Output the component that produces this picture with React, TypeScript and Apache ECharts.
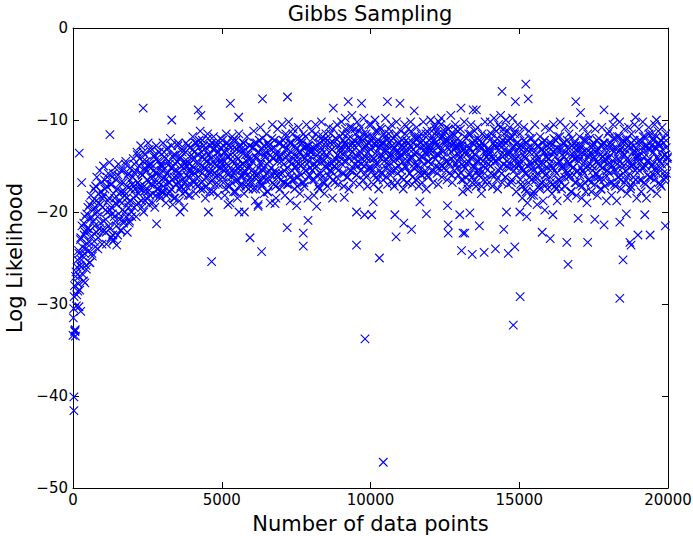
import React, { useEffect, useRef } from "react";
import * as echarts from "echarts";

const TITLE = "Gibbs Sampling";
const X_NAME = "Number of data points";
const Y_NAME = "Log Likelihood";
const X_TICKS = [0, 5000, 10000, 15000, 20000];
const Y_TICKS = [-50, -40, -30, -20, -10, 0];

// regularly spaced samples (one every SAMPLE_STEP data points)
const SAMPLE_STEP = 25;
const logLikSamplesA: number[] = [
  -33.4, -30.5, -28.0, -32.8, -26.5, -29.0, -25.2, -27.8, -24.5, -28.5, -23.0, -26.0, -21.5, -24.8, -27.5, -22.5, -20.5, -24.0, -26.2, -21.8, -19.5, -23.2, -25.5, -20.8, -18.2, -22.6, -24.8, -19.8, -17.5, -21.5, -23.8, -18.8, -16.2, -20.5, -22.8, -19.0, -15.5, -21.2, -17.8, -23.5,
  -19.5, -15.0, -22.0, -17.5, -20.8, -23.5, -16.2, -18.8, -21.5, -14.6, -19.8, -22.8, -17.0, -20.2, -15.8, -23.0, -18.5, -21.0, -16.5, -19.2, -22.5, -14.8, -18.0, -20.8, -16.8, -22.0, -19.0, -15.5, -21.2, -17.8, -20.0, -14.5, -18.5, -22.2, -16.0, -19.5, -21.0, -15.2, -17.5, -20.5,
  -17.0, -14.2, -19.5, -15.8, -18.2, -20.5, -13.5, -16.8, -19.0, -15.0, -17.5, -12.8, -18.8, -16.0, -14.5, -20.0, -17.2, -13.8, -15.5, -18.5, -16.5, -12.5, -19.2, -14.8, -17.0, -15.2, -13.2, -18.0, -16.2, -14.0, -19.5, -15.8, -12.8, -17.5, -14.5, -16.8, -13.5, -18.2, -15.0, -17.8,
  -15.5, -12.5, -17.8, -14.0, -16.5, -19.0, -13.2, -15.8, -18.0, -14.5, -16.8, -12.0, -17.5, -15.2, -19.2, -13.8, -16.2, -18.5, -14.8, -17.0, -15.5, -12.8, -16.8, -18.8, -14.2, -17.2, -15.0, -13.5, -16.5, -19.5, -14.8, -17.8, -12.5, -16.0, -14.5, -18.2, -15.5, -13.0, -17.0, -15.8,
  -14.2, -11.8, -16.5, -13.5, -15.8, -18.0, -12.5, -14.8, -17.2, -13.0, -15.5, -11.2, -16.8, -14.0, -12.2, -17.5, -15.2, -13.2, -18.5, -14.5, -16.2, -11.5, -13.8, -15.5, -17.8, -12.8, -14.8, -16.5, -13.2, -11.8, -15.8, -17.0, -14.2, -12.5, -16.0, -18.2, -13.5, -15.2, -12.0, -14.5,
  -14.8, -12.2, -16.8, -13.5, -18.2, -15.2, -11.5, -14.0, -17.0, -12.8, -15.8, -19.0, -13.8, -16.2, -11.8, -14.5, -17.8, -13.0, -15.5, -12.2, -16.5, -18.5, -14.2, -11.5, -15.0, -17.2, -13.2, -16.0, -14.8, -12.5, -18.0, -15.5, -13.8, -16.8, -11.8, -14.2, -17.5, -15.0, -12.8, -16.2,
  -15.5, -13.0, -17.5, -11.2, -16.2, -18.8, -14.0, -12.5, -15.8, -19.2, -13.5, -16.8, -10.8, -14.5, -17.2, -12.0, -15.2, -18.0, -13.8, -16.5, -11.5, -14.8, -17.8, -12.8, -15.5, -19.0, -13.2, -16.0, -10.5, -14.2, -17.0, -12.2, -15.8, -18.5, -13.5, -11.0, -16.2, -14.0, -17.5, -12.5,
  -14.5, -10.5, -16.8, -12.8, -15.5, -18.2, -11.5, -14.0, -17.0, -13.2, -10.2, -15.8, -18.8, -12.5, -14.8, -16.5, -11.0, -13.8, -17.5, -15.2, -12.0, -14.5, -16.2, -10.8, -13.5, -18.0, -15.0, -12.2, -16.8, -14.0, -11.5, -17.2, -13.0, -15.5, -10.5, -14.8, -18.5, -12.8, -16.0, -13.5,
  -14.0, -11.2, -16.5, -13.0, -18.2, -15.2, -10.5, -12.8, -16.0, -14.5, -11.8, -17.5, -13.5, -15.8, -10.2, -14.2, -16.8, -12.2, -18.0, -15.0, -11.5, -13.8, -17.2, -14.8, -10.8, -16.2, -12.5, -15.5, -13.2, -18.5, -11.0, -14.5, -16.8, -12.0, -15.2, -10.5, -13.8, -17.0, -14.0, -11.8,
  -13.5, -10.2, -15.8, -12.2, -17.2, -14.5, -9.8, -12.8, -16.2, -11.5, -14.0, -17.5, -10.8, -13.2, -15.5, -9.5, -12.5, -16.8, -14.2, -11.0, -13.8, -16.0, -10.2, -15.0, -12.0, -17.0, -13.5, -10.8, -14.8, -12.2, -16.5, -9.8, -13.0, -15.8, -11.5, -14.2, -17.2, -12.5, -10.5, -15.2,
  -13.2, -10.5, -15.5, -12.0, -17.0, -14.2, -10.0, -12.8, -16.2, -11.2, -14.8, -17.5, -13.0, -10.8, -15.8, -12.5, -14.0, -16.5, -11.5, -13.5, -9.8, -15.2, -12.2, -17.0, -14.5, -11.0, -13.8, -16.0, -10.5, -12.8, -15.5, -13.2, -17.2, -11.8, -14.2, -10.2, -16.8, -12.5, -15.0, -13.5,
  -14.0, -11.2, -16.2, -12.8, -17.5, -13.5, -10.5, -15.0, -12.2, -16.8, -14.5, -11.0, -13.2, -15.8, -10.2, -14.2, -17.0, -12.5, -15.2, -11.8, -13.8, -16.5, -10.8, -14.8, -12.0, -17.2, -15.5, -13.0, -11.5, -16.0, -14.0, -10.2, -12.8, -15.8, -13.5, -17.5, -11.2, -14.5, -16.2, -12.2,
  -13.2, -10.0, -15.5, -11.8, -16.8, -14.0, -10.5, -12.5, -15.0, -11.2, -13.8, -17.0, -10.2, -12.8, -14.8, -9.8, -16.2, -13.5, -11.5, -15.2, -12.2, -14.5, -10.8, -16.5, -13.0, -11.0, -15.8, -12.5, -9.5, -14.2, -16.8, -11.8, -13.2, -15.5, -10.5, -12.8, -14.8, -11.2, -16.0, -13.5,
  -14.2, -11.0, -16.5, -12.8, -17.8, -15.0, -10.2, -13.5, -16.2, -12.0, -14.8, -17.5, -11.5, -13.2, -15.8, -10.5, -14.0, -16.8, -12.5, -15.2, -11.2, -13.8, -17.2, -14.5, -10.8, -16.0, -12.2, -15.5, -13.0, -18.0, -11.5, -14.5, -16.5, -12.8, -10.2, -15.2, -13.5, -17.0, -11.8, -14.2,
  -13.5, -10.2, -15.8, -12.0, -17.2, -14.2, -9.8, -12.8, -16.0, -11.2, -14.5, -17.5, -10.5, -13.2, -15.2, -9.5, -12.5, -16.8, -14.0, -11.0, -13.8, -16.2, -10.0, -15.0, -12.2, -17.0, -13.5, -10.8, -14.8, -12.0, -16.5, -9.8, -13.0, -15.5, -11.5, -14.2, -17.8, -12.5, -10.5, -15.0,
  -14.8, -11.5, -17.0, -13.2, -18.5, -15.5, -10.8, -14.0, -17.5, -12.5, -15.8, -19.0, -13.0, -11.2, -16.2, -14.5, -18.2, -12.0, -15.2, -17.8, -13.5, -10.5, -16.5, -14.2, -19.2, -12.8, -15.0, -17.2, -11.8, -14.8, -16.8, -13.2, -18.8, -15.5, -12.2, -10.8, -16.0, -14.0, -17.5, -13.5,
  -14.2, -11.0, -16.8, -12.8, -18.0, -15.2, -10.5, -13.5, -17.2, -12.2, -15.8, -18.8, -11.8, -14.5, -16.5, -10.2, -13.2, -17.5, -15.0, -12.5, -14.0, -16.2, -10.8, -15.5, -13.0, -18.5, -14.8, -11.5, -16.0, -13.8, -17.8, -12.0, -15.2, -10.5, -14.2, -16.8, -12.8, -18.2, -15.5, -13.5,
  -14.5, -11.8, -17.0, -13.0, -18.5, -15.5, -10.8, -13.8, -16.8, -12.2, -15.2, -19.0, -11.5, -14.0, -16.5, -10.5, -13.5, -17.8, -15.0, -12.8, -14.2, -16.2, -11.0, -15.8, -13.2, -18.2, -14.8, -12.0, -16.5, -13.8, -17.5, -10.8, -15.2, -12.5, -14.5, -17.2, -13.0, -18.8, -15.5, -11.5,
  -14.2, -11.2, -16.8, -12.8, -18.2, -15.0, -10.5, -13.5, -17.0, -12.0, -15.5, -18.8, -11.8, -14.2, -16.2, -10.2, -13.2, -17.5, -14.8, -12.5, -15.8, -11.0, -13.8, -16.5, -12.2, -18.0, -14.5, -10.8, -15.2, -13.0, -17.2, -11.5, -14.8, -16.8, -12.8, -10.5, -15.5, -13.5, -18.5, -14.0,
  -14.0, -11.0, -16.5, -12.5, -17.8, -15.2, -10.2, -13.5, -16.8, -11.8, -15.0, -18.5, -12.8, -14.5, -10.8, -16.2, -13.2, -17.5, -11.5, -14.8, -12.2, -16.0, -10.5, -15.5, -13.0, -18.0, -14.2, -11.2, -16.8, -12.8, -15.2, -17.2, -10.8, -14.0, -12.5, -16.5, -13.8, -11.5, -15.8, -14.2,
];

// the interleaved samples, offset by SAMPLE_OFFSET_B data points
const SAMPLE_OFFSET_B = 12;
const logLikSamplesB: number[] = [
  -31.5, -29.2, -33.0, -27.0, -30.2, -26.0, -28.6, -24.2, -27.0, -25.8, -22.8, -25.2, -23.8, -26.8, -21.2, -24.5, -22.2, -25.8, -20.2, -23.5, -21.8, -24.2, -19.2, -22.0, -20.5, -24.5, -18.8, -21.0, -23.2, -19.5, -17.2, -22.2, -20.0, -24.0, -18.0, -21.8, -19.2, -16.8, -22.0, -18.5,
  -18.2, -21.0, -16.5, -19.8, -22.2, -17.2, -20.0, -15.8, -18.5, -21.8, -17.0, -19.5, -16.2, -22.5, -18.0, -20.5, -15.2, -19.0, -21.5, -17.5, -16.0, -20.2, -18.8, -22.0, -15.5, -17.8, -19.8, -16.8, -21.0, -18.2, -14.8, -20.5, -17.2, -19.0, -15.8, -21.2, -16.5, -18.8, -20.0, -17.0,
  -16.2, -18.5, -14.8, -17.5, -15.5, -19.2, -13.8, -16.8, -18.0, -14.2, -17.2, -15.8, -19.5, -16.0, -13.5, -17.8, -15.2, -18.8, -14.5, -16.5, -17.8, -15.0, -13.2, -18.2, -16.2, -14.8, -17.0, -19.0, -15.5, -13.8, -16.8, -18.2, -14.2, -15.8, -17.5, -13.5, -16.0, -18.5, -14.8, -16.5,
  -15.0, -17.2, -13.5, -16.2, -14.2, -18.2, -15.8, -13.0, -16.8, -14.8, -17.8, -15.2, -12.8, -16.5, -14.0, -18.5, -15.5, -13.8, -17.0, -14.5, -16.2, -12.5, -15.8, -17.5, -14.0, -16.0, -13.2, -18.0, -15.2, -14.5, -16.8, -13.5, -17.2, -15.0, -12.8, -16.2, -14.8, -18.2, -15.5, -13.8,
  -15.0, -13.2, -16.8, -14.2, -12.5, -17.0, -15.5, -13.8, -16.2, -12.2, -14.8, -17.5, -13.5, -15.8, -14.0, -12.8, -16.5, -15.2, -13.0, -17.2, -14.5, -12.0, -15.8, -13.8, -16.8, -14.2, -12.5, -15.5, -17.8, -13.2, -14.8, -16.2, -12.8, -15.0, -13.5, -17.0, -14.2, -16.0, -13.0, -15.2,
  -14.2, -16.2, -12.8, -15.5, -13.5, -17.5, -14.8, -12.5, -16.0, -14.0, -17.2, -15.2, -13.0, -16.8, -14.5, -12.2, -15.8, -13.8, -17.8, -15.0, -13.2, -16.5, -14.2, -12.8, -15.5, -17.0, -13.5, -16.2, -14.8, -12.5, -15.8, -13.2, -17.2, -14.5, -16.0, -13.8, -15.2, -12.8, -16.8, -14.2,
  -14.5, -16.8, -13.0, -15.8, -12.5, -17.5, -14.2, -16.0, -13.5, -15.2, -12.2, -16.5, -14.8, -13.2, -17.0, -15.5, -12.8, -16.2, -14.0, -13.5, -15.8, -17.8, -12.5, -14.5, -16.5, -13.8, -15.2, -12.0, -16.8, -14.2, -13.0, -15.5, -17.2, -13.8, -16.0, -14.5, -12.5, -15.8, -14.0, -16.5,
  -13.8, -15.8, -12.2, -14.8, -16.8, -13.2, -11.8, -15.2, -13.8, -17.0, -14.5, -12.5, -16.2, -13.5, -15.5, -11.5, -14.2, -16.5, -12.8, -15.0, -13.2, -17.2, -14.0, -12.0, -15.8, -13.5, -16.0, -12.5, -14.8, -13.0, -16.8, -14.2, -11.8, -15.5, -13.8, -12.8, -16.2, -14.5, -13.2, -15.2,
  -13.5, -15.5, -12.0, -14.8, -16.5, -13.2, -11.5, -15.0, -13.8, -17.2, -14.2, -12.5, -15.8, -13.0, -16.2, -11.8, -14.5, -13.5, -16.8, -12.8, -15.2, -14.0, -12.2, -16.0, -13.5, -15.5, -11.5, -14.8, -13.2, -16.5, -12.5, -15.0, -14.2, -12.0, -16.2, -13.8, -15.5, -12.8, -14.5, -13.2,
  -13.0, -14.8, -11.5, -13.8, -15.8, -12.5, -11.0, -14.5, -13.2, -16.2, -12.0, -14.2, -15.5, -12.8, -10.8, -13.5, -15.2, -12.2, -14.8, -11.5, -13.0, -16.0, -12.5, -14.5, -11.2, -13.8, -15.5, -12.0, -14.2, -13.2, -11.5, -15.0, -12.8, -14.0, -16.2, -11.8, -13.5, -15.2, -12.5, -14.2,
  -13.2, -15.2, -11.8, -14.2, -16.0, -12.5, -11.2, -14.8, -13.5, -16.5, -12.2, -14.0, -15.5, -12.8, -11.0, -13.8, -15.8, -12.5, -14.5, -11.8, -13.2, -16.2, -12.8, -14.8, -11.5, -14.0, -15.5, -12.2, -13.8, -16.8, -12.0, -14.5, -13.0, -15.2, -11.5, -13.5, -15.8, -12.5, -14.2, -13.0,
  -13.8, -15.5, -12.2, -14.5, -16.5, -13.0, -11.5, -15.2, -13.5, -16.8, -12.5, -14.2, -15.8, -12.8, -11.2, -14.0, -16.2, -13.2, -14.8, -12.0, -13.5, -16.5, -12.8, -15.0, -11.8, -14.2, -15.8, -12.5, -14.0, -16.8, -12.2, -14.8, -13.2, -15.5, -11.5, -13.8, -16.0, -12.8, -14.5, -13.5,
  -12.8, -14.8, -11.2, -13.5, -15.5, -12.2, -10.8, -14.2, -12.8, -15.8, -11.5, -13.8, -15.2, -12.0, -10.5, -13.2, -15.0, -11.8, -14.0, -11.2, -12.5, -15.5, -12.2, -14.5, -11.0, -13.2, -14.8, -11.8, -13.5, -16.0, -11.5, -14.0, -12.5, -14.8, -11.0, -13.0, -15.2, -12.0, -13.8, -12.8,
  -14.0, -15.8, -12.5, -14.8, -16.5, -13.2, -11.8, -15.2, -13.8, -17.0, -12.8, -14.5, -16.0, -13.0, -11.5, -14.2, -16.2, -13.5, -15.0, -12.2, -13.8, -16.8, -13.0, -15.5, -12.0, -14.5, -16.0, -12.8, -14.2, -17.2, -12.5, -15.0, -13.5, -15.8, -11.8, -14.0, -16.5, -13.2, -14.8, -13.8,
  -13.2, -15.0, -11.5, -14.0, -16.0, -12.5, -11.0, -14.5, -13.0, -16.5, -12.0, -14.2, -15.5, -12.8, -10.8, -13.8, -15.8, -12.2, -14.8, -11.5, -13.2, -16.2, -12.5, -14.5, -11.2, -13.8, -15.2, -12.0, -13.5, -16.8, -11.8, -14.2, -12.8, -15.0, -11.2, -13.5, -16.0, -12.5, -14.0, -13.0,
  -14.5, -16.5, -12.8, -15.2, -17.2, -13.8, -12.2, -15.8, -14.2, -17.8, -13.2, -15.0, -16.8, -13.5, -12.0, -14.8, -16.5, -13.0, -15.5, -18.2, -12.5, -14.5, -16.2, -13.8, -15.8, -12.8, -14.2, -17.5, -13.2, -15.5, -16.8, -12.5, -14.8, -13.5, -16.0, -14.0, -17.0, -12.8, -15.2, -14.2,
  -14.8, -16.2, -12.5, -15.0, -17.0, -13.5, -12.0, -15.5, -14.0, -17.5, -13.0, -14.8, -16.5, -13.2, -11.8, -14.5, -16.8, -13.8, -15.2, -12.5, -14.0, -17.2, -13.5, -15.8, -12.2, -14.5, -16.2, -13.0, -14.8, -17.8, -12.8, -15.2, -13.8, -16.0, -12.5, -14.2, -16.8, -13.2, -15.5, -14.0,
  -14.2, -16.0, -12.8, -15.2, -17.2, -13.5, -12.2, -15.8, -14.5, -17.8, -13.2, -15.0, -16.5, -13.8, -12.0, -14.8, -16.8, -13.0, -15.5, -12.5, -14.0, -17.0, -13.5, -15.8, -12.2, -14.5, -16.2, -13.2, -15.0, -17.5, -12.8, -15.2, -14.0, -16.5, -12.5, -14.2, -16.0, -13.5, -15.5, -14.8,
  -14.0, -15.8, -12.5, -14.8, -16.8, -13.2, -12.0, -15.5, -14.2, -17.2, -13.0, -14.8, -16.2, -13.5, -11.8, -14.5, -16.5, -13.0, -15.2, -12.2, -13.8, -16.8, -13.2, -15.5, -12.0, -14.2, -16.0, -12.8, -14.8, -17.5, -12.5, -15.0, -13.5, -16.2, -12.2, -14.0, -16.5, -13.2, -15.2, -14.5,
  -13.8, -15.5, -12.2, -14.5, -16.5, -13.0, -11.8, -15.2, -14.0, -17.0, -12.8, -14.5, -16.0, -13.2, -11.5, -14.2, -16.2, -12.8, -15.0, -12.0, -13.5, -16.5, -13.0, -15.2, -11.8, -14.0, -15.8, -12.5, -14.5, -17.0, -12.2, -14.8, -13.2, -15.8, -12.0, -13.8, -16.2, -13.0, -14.8, -14.0,
];

// scattered samples away from the main band: [data points, log likelihood]
const burnInPoints: [number, number][] = [
  [30, -40.1], [30, -41.6], [60, -32.9], [80, -33.5], [200, -30.3], [260, -30.8],
  [210, -13.6], [290, -16.8], [400, -27.7], [570, -25.5], [1240, -11.6], [1470, -23.6], [1340, -23.2],
];
const highPoints: [number, number][] = [
  [2360, -8.7], [3320, -10.0], [4210, -8.9], [4300, -9.5], [5290, -8.2], [5570, -9.7],
  [6370, -7.7], [7210, -7.5], [8750, -8.7], [9250, -8.0], [9700, -8.2], [10570, -8.0],
  [10990, -8.2], [11470, -9.0], [13040, -8.7], [13450, -8.9], [13560, -8.9], [14420, -6.9],
  [14870, -8.0], [15220, -6.1], [15300, -7.7], [16900, -8.0], [17060, -9.2], [17850, -8.9],
  [18210, -9.7], [18910, -9.7], [19610, -10.0],
];
const lowPoints: [number, number][] = [
  [2810, -21.3], [3600, -20.0], [4550, -20.0], [4660, -25.4], [5210, -19.2], [5580, -20.0],
  [5760, -20.0], [5950, -22.8], [6220, -19.4], [6340, -24.3], [6790, -19.1], [7200, -21.7],
  [7520, -19.3], [7740, -22.3], [7740, -23.7], [7900, -20.9], [8190, -19.4], [9120, -18.4],
  [9530, -23.6], [9530, -20.0], [9800, -20.3], [9815, -33.8], [10040, -20.3], [10090, -18.9],
  [10300, -25.0], [10430, -47.2], [10820, -20.3], [10860, -22.7], [11120, -21.2], [11380, -21.9],
  [11660, -18.9], [11880, -20.2], [12590, -19.3], [12610, -21.4], [12610, -22.3], [13000, -20.3],
  [13060, -24.2], [13110, -22.3], [13170, -22.3], [13340, -20.1], [13420, -24.6], [13660, -21.5],
  [13820, -24.4], [14200, -24.0], [14480, -21.9], [14570, -20.0], [14630, -24.5], [14800, -32.3],
  [14850, -23.8], [15020, -20.0], [15030, -29.2], [15250, -20.5], [15770, -22.2], [15860, -19.8],
  [16040, -22.9], [16130, -20.3], [16600, -23.3], [16640, -25.7], [16980, -20.7], [17300, -23.3],
  [17540, -20.8], [17850, -21.4], [18380, -21.1], [18380, -29.4], [18490, -25.2], [18600, -20.2],
  [18720, -23.3], [18760, -23.6], [18990, -22.5], [19220, -20.3], [19400, -22.5], [19910, -21.5],
];

const FONT = "DejaVu Sans";
const minus = (v: number) => String(v).replace("-", "\u2212");

export default function App() {
  const ref = useRef<HTMLDivElement>(null);
  useEffect(() => {
    if (!ref.current) return;
    const chart = echarts.init(ref.current, undefined, { renderer: "svg" });
    const points: [number, number][] = logLikSamplesA
      .map((y, i) => [i * SAMPLE_STEP, y] as [number, number])
      .concat(logLikSamplesB.map((y, i) => [i * SAMPLE_STEP + SAMPLE_OFFSET_B, y] as [number, number]))
      .concat(burnInPoints, highPoints, lowPoints);
    const axisLine = { show: true, onZero: false, lineStyle: { color: "#000", width: 1 } };
    const tick = { show: true, inside: true, length: 6, lineStyle: { color: "#000", width: 1 } };
    const xBase = {
      type: "value" as const,
      min: X_TICKS[0],
      max: X_TICKS[X_TICKS.length - 1],
      interval: 5000,
      splitLine: { show: false },
      axisLine,
      axisTick: tick,
    };
    const yBase = {
      type: "value" as const,
      min: Y_TICKS[0],
      max: Y_TICKS[Y_TICKS.length - 1],
      interval: 10,
      splitLine: { show: false },
      axisLine,
      axisTick: tick,
    };
    chart.setOption({
      animation: false,
      backgroundColor: "#fff",
      title: {
        text: TITLE,
        left: 370,
        top: 3,
        padding: 0,
        textAlign: "center",
        textStyle: { fontFamily: FONT, fontSize: 21, fontWeight: "normal", color: "#000" },
      },
      grid: {
        left: 73,
        top: 28,
        width: 595,
        height: 460,
        containLabel: false,
        outerBoundsMode: "none",
      },
      xAxis: [
        {
          ...xBase,
          position: "bottom",
          name: X_NAME,
          nameLocation: "middle",
          nameGap: 25,
          nameTextStyle: { fontFamily: FONT, fontSize: 21, color: "#000" },
          axisLabel: { fontFamily: FONT, fontSize: 15, color: "#000", margin: 4, formatter: (v: number) => String(v) },
        },
        { ...xBase, position: "top", axisLabel: { show: false } },
      ],
      yAxis: [
        {
          ...yBase,
          position: "left",
          name: Y_NAME,
          nameLocation: "middle",
          nameGap: 41,
          nameTextStyle: { fontFamily: FONT, fontSize: 21, color: "#000" },
          axisLabel: { fontFamily: FONT, fontSize: 15, color: "#000", margin: 5, formatter: minus },
        },
        { ...yBase, position: "right", axisLabel: { show: false } },
      ],
      series: [
        {
          type: "scatter",
          data: points,
          symbol: "path://M0,0L10,10M10,0L0,10",
          symbolSize: 8.5,
          itemStyle: { color: "rgba(0,0,0,0)", borderColor: "#0000ff", borderWidth: 1.1, opacity: 1 },
          emphasis: { disabled: true },
          xAxisIndex: 0,
          yAxisIndex: 0,
        },
      ],
    });
    return () => chart.dispose();
  }, []);
  return (
    <div
      ref={ref}
      style={{ position: "fixed", left: 0, top: 0, width: 693, height: 536, background: "#fff" }}
    />
  );
}
